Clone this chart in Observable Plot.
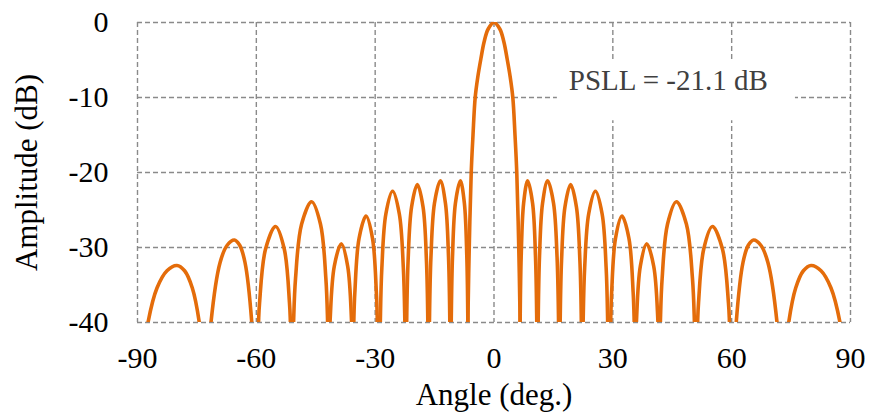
<!DOCTYPE html>
<html><head><meta charset="utf-8">
<script src="https://cdn.jsdelivr.net/npm/d3@7"></script>
<script src="https://cdn.jsdelivr.net/npm/@observablehq/plot@0.6"></script>
<style>html,body{margin:0;padding:0;background:#fff}</style>
</head><body><div id="chart"></div>
<script>
// Lobes of the pattern, left to right: angle (deg.) and amplitude (dB)
const lobeAngles = [
  [-88.74,-87.35,-85.08,-82.56,-80.05,-78.11,-76.16,-74.4,-73.33],
  [-72.11,-71.45,-69.15,-67.36,-65.55,-64.2,-62.86,-61.15,-60.66],
  [-59.82,-59.45,-59.19,-57.67,-55.15,-52.95,-51.63,-51.4,-51.07],
  [-50.85,-50.6,-50.1,-48.58,-46.05,-43.8,-42.45,-42.0,-41.77],
  [-41.74,-41.4,-40.32,-38.55,-36.94,-35.95,-35.64],
  [-35.62,-35.4,-35.13,-34.07,-32.3,-30.67,-29.7,-29.45,-29.24],
  [-28.85,-28.7,-28.31,-27.29,-25.6,-23.91,-22.89,-22.5,-22.35],
  [-22.16,-22.05,-21.69,-20.81,-19.35,-17.91,-17.05,-16.7,-16.59],
  [-16.4,-16.3,-15.92,-15.03,-13.55,-12.26,-11.48,-11.15,-11.06],
  [-10.89,-10.8,-10.48,-9.74,-8.5,-7.48,-6.86,-6.6,-6.53],
  [-6.75,-6.6,-6.25,-5.75,-5.3,-4.75,-4.1,-3.3,-2.5,-1.5,0,1.5,2.5,3.3,4.1,4.75,5.3,5.75,6.25,6.6,6.75],
  [6.53,6.6,6.86,7.48,8.5,9.74,10.48,10.8,10.89],
  [11.06,11.15,11.48,12.26,13.55,15.03,15.92,16.3,16.4],
  [16.59,16.7,17.05,17.91,19.35,20.81,21.69,22.05,22.16],
  [22.35,22.5,22.89,23.91,25.6,27.29,28.31,28.7,28.85],
  [29.24,29.45,29.7,30.67,32.3,34.07,35.13,35.4,35.62],
  [35.64,35.95,36.94,38.55,40.32,41.4,41.74],
  [41.77,42.0,42.45,43.8,46.05,48.58,50.1,50.6,50.85],
  [51.07,51.4,51.63,52.95,55.15,57.67,59.19,59.45,59.82],
  [60.66,61.15,62.86,64.2,65.55,67.36,69.15,71.45,72.11],
  [73.33,74.4,76.16,78.11,80.05,82.56,85.08,87.35,88.74]
];
const lobeAmplitudes = [
  [-45.8,-40,-35.4,-33.1,-32.4,-33.1,-35.4,-40,-45.8],
  [-46,-40,-32,-29.7,-29,-29.7,-32,-40,-46],
  [-46,-40,-37.4,-30.2,-27.2,-30.2,-37.4,-40,-46],
  [-46,-40,-34.1,-26.9,-23.9,-26.9,-34.1,-40,-46],
  [-46,-40,-32.5,-29.5,-32.5,-40,-46],
  [-46,-40,-36,-28.8,-25.8,-28.8,-36,-40,-46],
  [-46,-40,-32.7,-25.5,-22.5,-25.5,-32.7,-40,-46],
  [-46,-40,-31.8,-24.6,-21.6,-24.6,-31.8,-40,-46],
  [-46,-40,-31.3,-24.1,-21.1,-24.1,-31.3,-40,-46],
  [-46,-40,-31.3,-24.1,-21.1,-24.1,-31.3,-40,-46],
  [-46,-40,-30,-20,-15,-10,-7.3,-4.8,-2.6,-0.9,0,-0.9,-2.6,-4.8,-7.3,-10,-15,-20,-30,-40,-46],
  [-46,-40,-31.3,-24.1,-21.1,-24.1,-31.3,-40,-46],
  [-46,-40,-31.3,-24.1,-21.1,-24.1,-31.3,-40,-46],
  [-46,-40,-31.8,-24.6,-21.6,-24.6,-31.8,-40,-46],
  [-46,-40,-32.7,-25.5,-22.5,-25.5,-32.7,-40,-46],
  [-46,-40,-36,-28.8,-25.8,-28.8,-36,-40,-46],
  [-46,-40,-32.5,-29.5,-32.5,-40,-46],
  [-46,-40,-34.1,-26.9,-23.9,-26.9,-34.1,-40,-46],
  [-46,-40,-37.4,-30.2,-27.2,-30.2,-37.4,-40,-46],
  [-46,-40,-32,-29.7,-29,-29.7,-32,-40,-46],
  [-45.8,-40,-35.4,-33.1,-32.4,-33.1,-35.4,-40,-45.8]
];
const xTicks = [-90, -60, -30, 0, 30, 60, 90];
const yTicks = [-40, -30, -20, -10, 0];
const xTitle = "Angle (deg.)";
const yTitle = "Amplitude (dB)";
const psll = [{text: "PSLL = -21.1 dB", angle: 44, amp: -7.7, left: 16, right: 76.1, bottom: -13.1, top: -5.3}];

const pattern = lobeAngles.flatMap((angles, i) =>
  angles.map((a, j) => ({lobe: i, angle: a, amp: lobeAmplitudes[i][j]})));

const gridStyle = {stroke: "#8a8a8a", strokeOpacity: 1, strokeWidth: 1.4, strokeDasharray: "5,3"};
const plain = d => `${d}`;

const chart = Plot.plot({
  width: 869, height: 418,
  marginLeft: 137, marginRight: 19, marginTop: 22, marginBottom: 96,
  style: {fontFamily: "'Liberation Serif','Times New Roman',serif", fontSize: "30px", background: "#fff", color: "#000"},
  x: {domain: [-90, 90]},
  y: {domain: [-40, 0]},
  marks: [
    Plot.gridX(xTicks, gridStyle),
    Plot.gridY(yTicks, gridStyle),
    Plot.rect(psll, {x1: "left", x2: "right", y1: "bottom", y2: "top", fill: "#fff"}),
    Plot.line(pattern, {x: "angle", y: "amp", z: "lobe", stroke: "#E46C0A", strokeWidth: 3.6, curve: "catmull-rom", clip: true}),
    Plot.axisX(xTicks, {tickSize: 0, tickPadding: 24, fontSize: 30, tickFormat: plain, label: null}),
    Plot.axisY(yTicks, {tickSize: 0, tickPadding: 29, fontSize: 30, tickFormat: plain, label: null}),
    Plot.text([xTitle], {frameAnchor: "bottom", dy: 82, fontSize: 31}),
    Plot.text([yTitle], {frameAnchor: "left", dx: -110, rotate: -90, textAnchor: "middle", fontSize: 31}),
    Plot.text(psll, {x: "angle", y: "amp", text: "text", fontSize: 29, fill: "#404040"})
  ]
});
document.getElementById("chart").append(chart);
</script>
</body></html>
